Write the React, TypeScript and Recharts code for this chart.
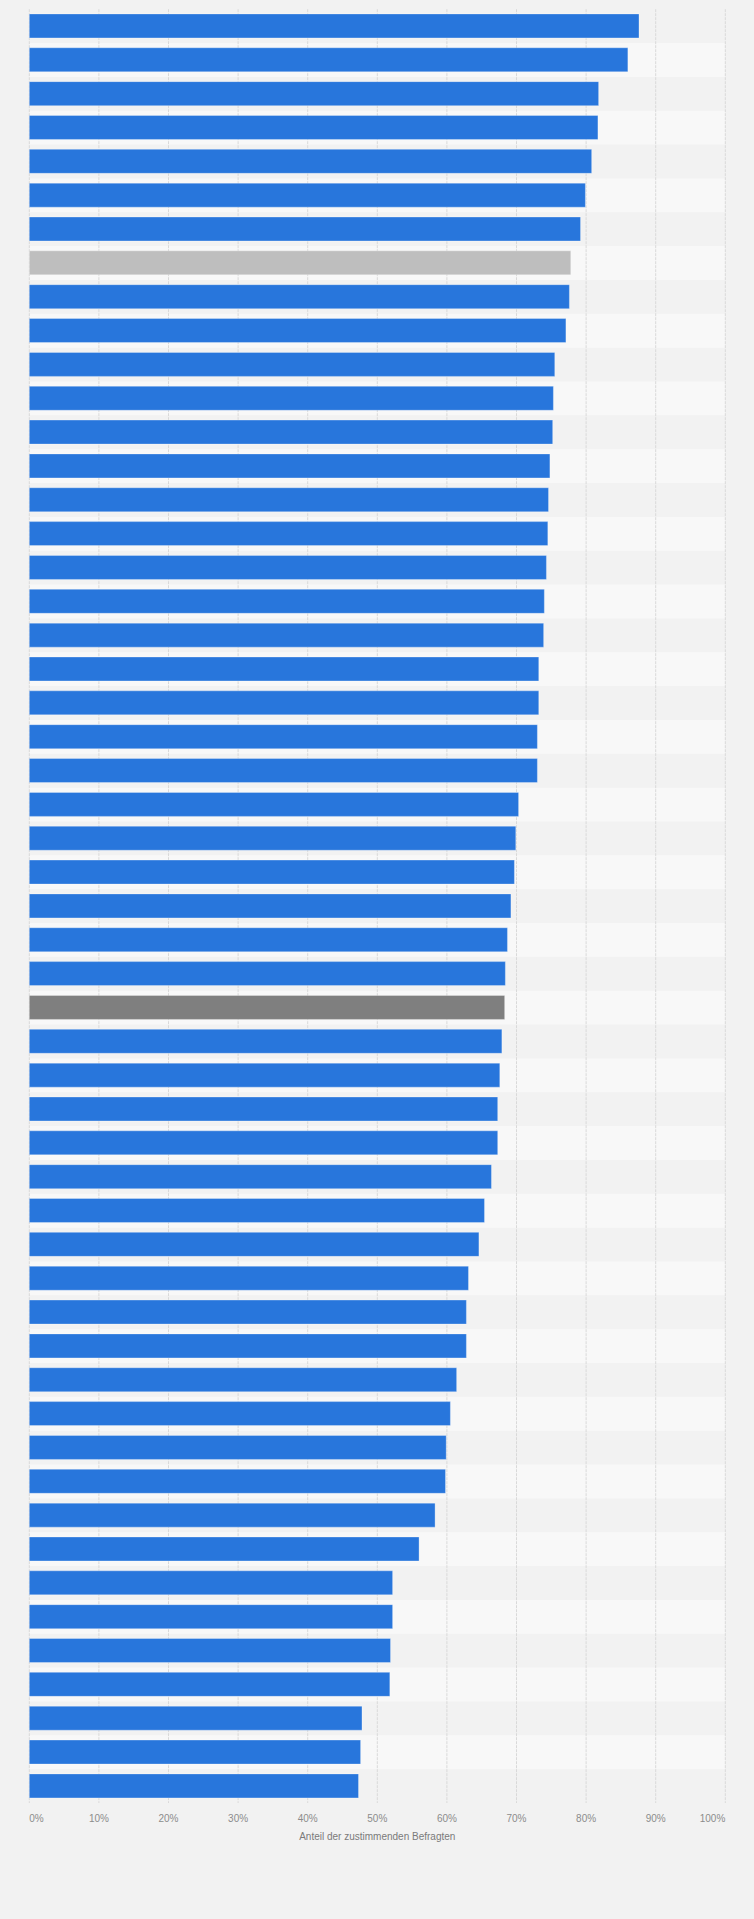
import React from 'react';
import { BarChart, Bar, XAxis, YAxis, CartesianGrid, ReferenceArea, Cell, Label } from 'recharts';

const categories = [
  'Kategorie 1', 'Kategorie 2', 'Kategorie 3', 'Kategorie 4', 'Kategorie 5', 'Kategorie 6', 'Kategorie 7',
  'Kategorie 8', 'Kategorie 9', 'Kategorie 10', 'Kategorie 11', 'Kategorie 12', 'Kategorie 13', 'Kategorie 14',
  'Kategorie 15', 'Kategorie 16', 'Kategorie 17', 'Kategorie 18', 'Kategorie 19', 'Kategorie 20', 'Kategorie 21',
  'Kategorie 22', 'Kategorie 23', 'Kategorie 24', 'Kategorie 25', 'Kategorie 26', 'Kategorie 27', 'Kategorie 28',
  'Kategorie 29', 'Kategorie 30', 'Kategorie 31', 'Kategorie 32', 'Kategorie 33', 'Kategorie 34', 'Kategorie 35',
  'Kategorie 36', 'Kategorie 37', 'Kategorie 38', 'Kategorie 39', 'Kategorie 40', 'Kategorie 41', 'Kategorie 42',
  'Kategorie 43', 'Kategorie 44', 'Kategorie 45', 'Kategorie 46', 'Kategorie 47', 'Kategorie 48', 'Kategorie 49',
  'Kategorie 50', 'Kategorie 51', 'Kategorie 52', 'Kategorie 53',
];

const shares = [
  87.6, 86.0, 81.8, 81.7, 80.8, 79.9, 79.2,
  77.8, 77.6, 77.1, 75.5, 75.3, 75.2, 74.8,
  74.6, 74.5, 74.3, 74.0, 73.9, 73.2, 73.2,
  73.0, 73.0, 70.3, 69.9, 69.7, 69.2, 68.7,
  68.4, 68.3, 67.9, 67.6, 67.3, 67.3, 66.4,
  65.4, 64.6, 63.1, 62.8, 62.8, 61.4, 60.5,
  59.9, 59.8, 58.3, 56.0, 52.2, 52.2, 51.9,
  51.8, 47.8, 47.6, 47.3,
];

const lightGrayCategory = 'Kategorie 8';
const darkGrayCategory = 'Kategorie 30';

const xTicks = [0, 10, 20, 30, 40, 50, 60, 70, 80, 90, 100];
const xTickLabels = ['0%', '10%', '20%', '30%', '40%', '50%', '60%', '70%', '80%', '90%', '100%'];
const axisTitle = 'Anteil der zustimmenden Befragten';

const data = categories.map((name, i) => ({ name, value: shares[i] }));

const FONT = '"Liberation Sans", Arial, sans-serif';

const colorFor = (name: string) => {
  if (name === lightGrayCategory) return '#bebebe';
  if (name === darkGrayCategory) return '#7f7f7f';
  return '#2876dc';
};

const XTick = (props: any) => {
  const { x, y, payload } = props;
  const v = payload.value;
  const idx = xTicks.indexOf(v);
  const anchor = v === xTicks[0] ? 'start' : v === xTicks[xTicks.length - 1] ? 'end' : 'middle';
  return (
    <text x={x} y={y} dy={19} textAnchor={anchor} fontSize={10} fill="#8c8c8c" fontFamily={FONT}>
      {xTickLabels[idx]}
    </text>
  );
};

export default function App() {
  return (
    <div
      style={{
        position: 'absolute',
        left: 0,
        top: 0,
        width: 754,
        height: 1919,
        background: '#f2f2f2',
      }}
    >
      <BarChart
        width={754}
        height={1919}
        data={data}
        layout="vertical"
        margin={{ top: 9.2, right: 28.7, left: 29.3, bottom: 76 }}
        barCategoryGap="14%"
      >
        {categories
          .filter((_, i) => i % 2 === 1)
          .map((c) => (
            <ReferenceArea
              key={c}
              y1={c}
              y2={c}
              fill="#f8f8f8"
              fillOpacity={1}
              stroke="none"
              ifOverflow="visible"
              zIndex={-200}
            />
          ))}
        <CartesianGrid horizontal={false} vertical stroke="#d9d9d9" strokeDasharray="3 1" zIndex={-100} />
        <XAxis
          type="number"
          domain={[0, 100]}
          ticks={xTicks}
          interval={0}
          axisLine={false}
          tickLine={false}
          tickSize={0}
          tickMargin={0}
          height={40}
          tick={<XTick />}
        >
          <Label
            value={axisTitle}
            position="insideBottom"
            offset={3}
            fontSize={10}
            fill="#7a7a7a"
            fontFamily={FONT}
          />
        </XAxis>
        <YAxis
          type="category"
          dataKey="name"
          width={0}
          tick={false}
          tickLine={false}
          axisLine={{ stroke: '#444444', strokeWidth: 1 }}
        />
        <Bar dataKey="value" isAnimationActive={false} stroke="rgba(255,255,255,0.3)" strokeWidth={1}>
          {data.map((d) => (
            <Cell key={d.name} fill={colorFor(d.name)} />
          ))}
        </Bar>
      </BarChart>
    </div>
  );
}
